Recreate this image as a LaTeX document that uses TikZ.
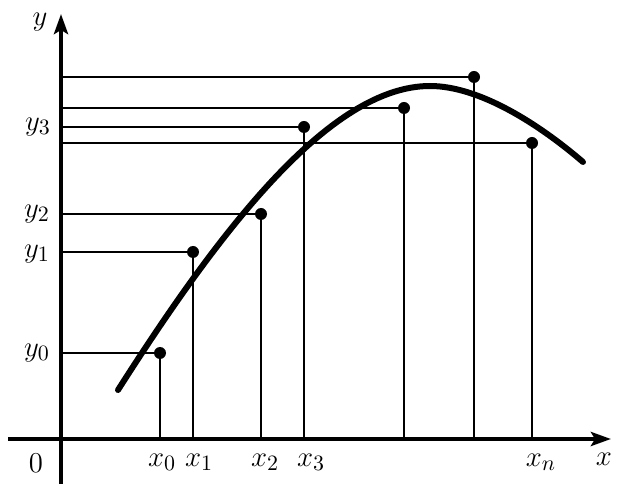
\documentclass[tikz,border=0pt]{standalone}
\usepackage{amsmath, amssymb}
\usepackage{tikz}
\usetikzlibrary{arrows.meta}

\begin{document}
\begin{tikzpicture}[x=0.5pt, y=-0.5pt, thick, font=\fontsize{15}{18}\selectfont]
       \useasboundingbox (0,0) rectangle (622,486);
       \tikzset{
         axis/.style={line width=2pt, -{Stealth[length=10pt, width=7pt, inset=2pt]}},
         guide/.style={line width=1.4pt},
         dot/.style={circle, fill, inner sep=0pt, minimum size=6pt},
         lbl/.style={inner sep=1pt}
       }
       % axes
       \coordinate (O) at (61,439);
       \coordinate (xs) at (8,439);
       \coordinate (xe) at (611,439);
       \coordinate (ys) at (61,484);
       \coordinate (ye) at (61,14);
       \draw[axis] (xs) -- (xe);
       \draw[axis] (ys) -- (ye);

       % sample points
       \node[dot] (p0) at (160,353) {};
       \node[dot] (p1) at (193,252) {};
       \node[dot] (p2) at (261,214) {};
       \node[dot] (p3) at (304,127) {};
       \node[dot] (p4) at (404,108) {};
       \node[dot] (p5) at (474,77) {};
       \node[dot] (pn) at (532,143) {};

       \foreach \p in {p0,p1,p2,p3,p4,p5,pn}
         \draw[guide] (\p.center -| O) -- (\p.center) -- (\p.center |- O);

       % curve
       \coordinate (c0) at (118,390);
       \coordinate (top) at (430,86);
       \coordinate (c1) at (583,162);
       \draw[line width=3pt, line cap=round]
         (c0) .. controls (220,230) and (330,86) .. (top)
              .. controls (480,86) and (540,125) .. (c1);

       % labels
       \node[lbl] (ly) at (40,22) {$y$};
       \node[lbl] (ly3) at (38,127) {$y_3$};
       \node[lbl] (ly2) at (37,214) {$y_2$};
       \node[lbl] (ly1) at (37,254) {$y_1$};
       \node[lbl] (ly0) at (37,353) {$y_0$};
       \node[lbl] (l0) at (36,463) {$0$};
       \node[lbl] (lx0) at (162,462) {$x_0$};
       \node[lbl] (lx1) at (199,462) {$x_1$};
       \node[lbl] (lx2) at (265,462) {$x_2$};
       \node[lbl] (lx3) at (311,462) {$x_3$};
       \node[lbl] (lxn) at (541,462) {$x_n$};
       \node[lbl] (lx) at (604,459) {$x$};
\end{tikzpicture}
\end{document}
